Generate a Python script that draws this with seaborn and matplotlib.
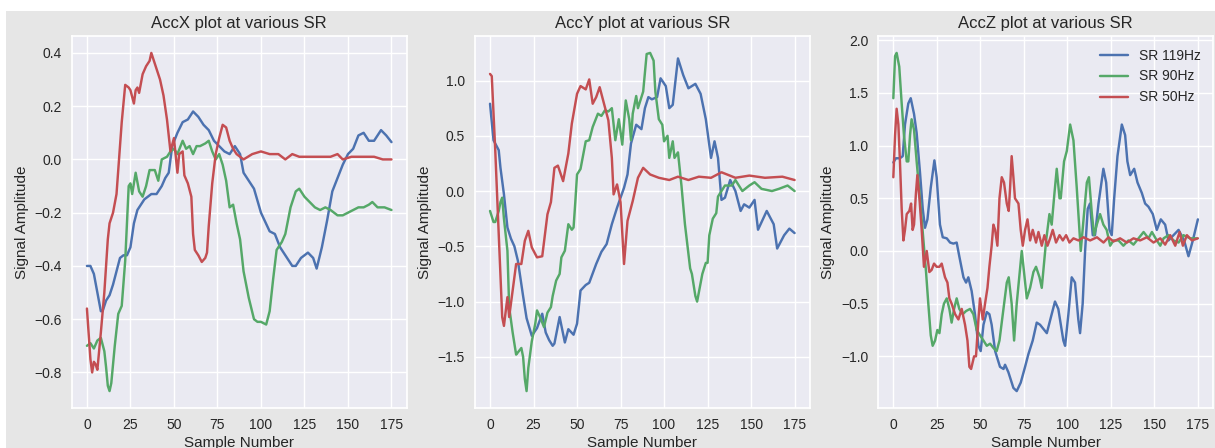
import matplotlib
matplotlib.use("Agg")
import matplotlib.pyplot as plt
from matplotlib.patches import Rectangle
import seaborn as sns
import pandas as pd

# ---------------- data (sample number, amplitude) ----------------
labels = ["SR 119Hz", "SR 90Hz", "SR 50Hz"]
colors = ["#4C72B0", "#55A868", "#C44E52"]
titles = ["AccX plot at various SR", "AccY plot at various SR", "AccZ plot at various SR"]

# AccX
accx_119_s = [0, 2, 4, 6, 8, 9, 11, 13, 15, 17, 19, 21, 23, 25, 27, 29, 31, 33, 35, 37, 40, 43, 45, 47,
              49, 52, 55, 58, 61, 64, 67, 70, 73, 76, 79, 82, 85, 88, 90, 93, 96, 100, 105, 108, 111, 114,
              118, 120, 123, 127, 130, 132, 135, 138, 141, 144, 147, 150, 153, 156, 159, 162, 165, 169,
              172, 175]
accx_119_v = [-0.40, -0.40, -0.43, -0.50, -0.57, -0.57, -0.53, -0.51, -0.47, -0.42, -0.37, -0.36, -0.36,
              -0.33, -0.24, -0.19, -0.17, -0.15, -0.14, -0.13, -0.13, -0.10, -0.07, -0.05, 0.05, 0.10,
              0.14, 0.15, 0.18, 0.16, 0.13, 0.11, 0.07, 0.05, 0.03, 0.02, 0.05, 0.02, -0.05, -0.08,
              -0.11, -0.20, -0.27, -0.28, -0.33, -0.36, -0.40, -0.40, -0.37, -0.35, -0.37, -0.41, -0.33,
              -0.23, -0.12, -0.07, -0.02, 0.02, 0.04, 0.09, 0.10, 0.07, 0.07, 0.11, 0.09, 0.065]
accx_90_s = [0, 2, 4, 6, 8, 10, 11, 12, 13, 14, 16, 18, 20, 22, 24, 25, 26, 28, 30, 32, 34, 36, 39, 41,
             43, 46, 48, 50, 52, 55, 57, 59, 61, 63, 65, 68, 70, 72, 74, 76, 78, 80, 82, 84, 86, 88, 90,
             93, 96, 98, 100, 103, 105, 107, 109, 112, 114, 117, 120, 122, 125, 128, 131, 134, 137, 140,
             144, 147, 150, 153, 156, 159, 162, 164, 167, 171, 175]
accx_90_v = [-0.70, -0.69, -0.71, -0.68, -0.67, -0.72, -0.78, -0.85, -0.87, -0.84, -0.70, -0.58, -0.55,
             -0.38, -0.10, -0.09, -0.13, -0.05, -0.12, -0.14, -0.10, -0.04, -0.04, -0.08, 0.00, 0.01,
             0.03, 0.04, 0.02, 0.07, 0.04, 0.05, 0.02, 0.05, 0.05, 0.06, 0.07, 0.03, 0.00, 0.02, -0.02,
             -0.08, -0.18, -0.17, -0.24, -0.30, -0.42, -0.52, -0.60, -0.61, -0.61, -0.62, -0.57, -0.45,
             -0.34, -0.31, -0.28, -0.18, -0.12, -0.11, -0.14, -0.16, -0.18, -0.19, -0.18, -0.19, -0.21,
             -0.21, -0.20, -0.19, -0.18, -0.18, -0.17, -0.16, -0.18, -0.18, -0.19]
accx_50_s = [0, 2, 3, 4, 5, 6, 8, 10, 12, 13, 15, 17, 19, 20, 22, 24, 25, 27, 28, 29, 30, 32, 34, 36,
             37, 39, 42, 44, 46, 48, 50, 52, 53, 55, 56, 58, 60, 61, 62, 64, 66, 68, 69, 70, 72, 74, 76,
             78, 80, 82, 84, 86, 90, 95, 100, 105, 110, 114, 118, 122, 130, 140, 144, 147, 152, 160,
             165, 170, 175]
accx_50_v = [-0.56, -0.75, -0.80, -0.76, -0.77, -0.79, -0.65, -0.50, -0.30, -0.24, -0.20, -0.13, 0.05,
             0.14, 0.28, 0.27, 0.26, 0.21, 0.26, 0.27, 0.25, 0.32, 0.35, 0.37, 0.40, 0.36, 0.30, 0.24,
             0.15, 0.03, 0.08, -0.05, 0.02, 0.03, -0.06, -0.09, -0.14, -0.28, -0.34, -0.36, -0.385,
             -0.37, -0.35, -0.25, -0.09, 0.02, 0.08, 0.13, 0.12, 0.07, 0.04, 0.02, 0.00, 0.02, 0.03,
             0.02, 0.02, 0.00, 0.02, 0.01, 0.01, 0.01, 0.02, 0.00, 0.01, 0.01, 0.01, 0.00, 0.00]

# AccY
accy_119_s = [0, 2, 5, 6, 8, 10, 12, 14, 16, 19, 21, 24, 27, 30, 32, 34, 36, 37, 40, 43, 45, 48, 50, 52,
              55, 57, 61, 64, 67, 70, 73, 77, 79, 81, 84, 87, 89, 91, 93, 96, 98, 101, 103, 105, 108,
              111, 114, 118, 121, 124, 127, 129, 131, 133, 135, 138, 141, 144, 146, 149, 152, 154, 159,
              163, 165, 169, 172, 175]
accy_119_v = [0.79, 0.46, 0.37, 0.21, -0.03, -0.33, -0.43, -0.50, -0.63, -0.95, -1.15, -1.31, -1.24,
              -1.11, -1.28, -1.35, -1.40, -1.38, -1.14, -1.37, -1.25, -1.30, -1.20, -0.90, -0.85, -0.83,
              -0.66, -0.55, -0.48, -0.30, -0.15, 0.03, 0.15, 0.43, 0.60, 0.56, 0.75, 0.85, 0.83, 0.85,
              1.02, 0.95, 0.75, 0.78, 1.20, 1.05, 0.93, 0.97, 0.88, 0.65, 0.30, 0.45, 0.30, -0.08, -0.06,
              0.10, 0.00, -0.18, -0.12, -0.15, -0.08, -0.35, -0.18, -0.30, -0.52, -0.40, -0.34, -0.38]
accy_90_s = [0, 2, 3, 5, 6, 7, 8, 10, 11, 13, 15, 16, 18, 19, 20, 21, 22, 24, 26, 27, 29, 31, 33, 35, 36,
             38, 40, 41, 43, 45, 47, 48, 49, 50, 52, 55, 57, 59, 62, 64, 66, 68, 70, 72, 74, 76, 78, 80,
             81, 82, 84, 85, 88, 90, 92, 94, 95, 97, 99, 100, 102, 103, 105, 106, 108, 110, 112, 115,
             116, 118, 119, 122, 124, 125, 126, 128, 130, 131, 135, 139, 141, 145, 149, 152, 156, 162,
             166, 171, 175]
accy_90_v = [-0.18, -0.28, -0.28, -0.18, -0.10, -0.06, -0.25, -0.54, -1.05, -1.28, -1.48, -1.46, -1.42,
             -1.50, -1.70, -1.81, -1.60, -1.36, -1.20, -1.08, -1.15, -1.23, -1.10, -1.05, -0.95, -0.81,
             -0.75, -0.60, -0.54, -0.30, -0.35, -0.33, -0.10, 0.15, 0.20, 0.45, 0.46, 0.58, 0.70, 0.68,
             0.73, 0.72, 0.75, 0.46, 0.65, 0.42, 0.82, 0.65, 0.46, 0.70, 0.86, 0.75, 0.90, 1.24, 1.25,
             1.18, 0.90, 0.65, 0.60, 0.45, 0.50, 0.30, 0.45, 0.30, 0.35, 0.05, -0.30, -0.70, -0.75,
             -0.95, -1.00, -0.75, -0.65, -0.65, -0.40, -0.25, -0.20, -0.05, 0.05, 0.05, 0.10, 0.00, 0.05,
             0.08, 0.02, 0.00, 0.02, 0.05, 0.00]
accy_50_s = [0, 1, 3, 5, 7, 8, 10, 11, 13, 15, 18, 20, 22, 24, 27, 30, 33, 35, 37, 39, 42, 45, 47, 50,
             52, 55, 57, 59, 61, 63, 65, 68, 70, 71, 73, 75, 77, 79, 82, 85, 88, 92, 97, 103, 108, 114,
             120, 127, 133, 141, 149, 158, 168, 175]
accy_50_v = [1.06, 1.04, 0.37, -0.39, -1.14, -1.22, -0.96, -1.14, -0.90, -0.66, -0.66, -0.45, -0.36, -0.51,
             -0.60, -0.59, -0.21, -0.10, 0.21, 0.23, 0.09, 0.34, 0.61, 0.88, 0.95, 0.92, 1.01, 0.79, 0.85,
             0.94, 0.82, 0.64, 0.30, -0.03, 0.06, -0.10, -0.66, -0.27, -0.09, 0.12, 0.21, 0.15, 0.12,
             0.10, 0.13, 0.10, 0.13, 0.12, 0.17, 0.12, 0.14, 0.12, 0.13, 0.10]

# AccZ
accz_119_s = [0, 1.5, 3.8, 5.4, 6.7, 8.6, 10, 11.9, 13.4, 15.3, 16.9, 18.2, 19.6, 21.5, 23.6, 24.9, 26.8,
              28.4, 30.7, 32.6, 34.5, 36.4, 37.9, 40.3, 41.8, 43.1, 45, 46.9, 48.9, 50.2, 51.8, 53.7,
              55.2, 56.5, 58.5, 61.3, 63.3, 64.2, 66.1, 69, 70.9, 73.2, 75.7, 77.6, 80.1, 82.4, 84.3,
              88.2, 91, 92.9, 94.8, 97.7, 98.7, 100.6, 102.5, 104.4, 106.3, 107.3, 108.8, 110.2, 111.7,
              113, 114.6, 115.9, 117.9, 120.7, 122.3, 124.2, 125.5, 126.9, 128.8, 131.3, 133.2, 134.5,
              136.1, 138.4, 140.3, 142.8, 144.7, 146.6, 149.1, 151.4, 153.7, 156.2, 158.1, 161, 163.9,
              167.1, 169.6, 172.1, 175]
accz_119_v = [0.84, 0.88, 0.88, 0.9, 1.2, 1.4, 1.45, 1.3, 1.12, 0.75, 0.4, 0.22, 0.3, 0.6, 0.86, 0.7, 0.25,
              0.13, 0.12, 0.08, 0.07, 0.08, -0.05, -0.25, -0.3, -0.25, -0.38, -0.6, -0.9, -0.95, -0.7,
              -0.58, -0.6, -0.7, -0.95, -1.1, -1.12, -1.08, -1.15, -1.3, -1.33, -1.25, -1.1, -0.98,
              -0.85, -0.68, -0.7, -0.78, -0.6, -0.48, -0.55, -0.85, -0.9, -0.6, -0.25, -0.3, -0.65,
              -0.78, -0.5, 0.0, 0.4, 0.45, 0.15, 0.15, 0.45, 0.78, 0.65, 0.2, 0.15, 0.5, 0.9, 1.2, 1.1,
              0.85, 0.72, 0.78, 0.65, 0.55, 0.45, 0.42, 0.35, 0.2, 0.3, 0.25, 0.1, 0.15, 0.2, 0.1, -0.05,
              0.1, 0.3]
accz_90_s = [0, 1, 1.9, 3.4, 4.8, 6.1, 7.7, 8.6, 9.6, 10.5, 11.9, 13.4, 15.3, 17.3, 18.8, 20.1, 21.5, 22.6,
             24, 25.3, 26.5, 27.8, 29.1, 30.7, 32.2, 33.5, 34.9, 36.4, 37.9, 39.9, 41.8, 44.1, 46, 47.9,
             49.8, 51.8, 53.7, 55.6, 57.5, 59.4, 61, 62.9, 65.2, 66.3, 68, 69.4, 70.9, 73.8, 75.1, 76.7,
             78.6, 80.5, 82, 84, 85.3, 87.8, 89.7, 91, 92.6, 93.9, 95.5, 96.2, 98.1, 99.7, 101.6, 103.5,
             105.4, 107.7, 109.3, 111.2, 112.4, 114.1, 115.4, 116.9, 118.8, 120.7, 122.6, 124.6, 126.5,
             129.4, 132.2, 135.1, 138, 140.9, 143.8, 146.6, 148.6, 151.4, 153.4, 155.3, 158.1, 161,
             163.9, 166.7, 170.6, 174.4]
accz_90_v = [1.45, 1.85, 1.88, 1.75, 1.4, 1.1, 0.85, 0.85, 1.1, 1.25, 1.15, 0.85, 0.5, 0.1, -0.2, -0.5,
             -0.8, -0.9, -0.85, -0.75, -0.78, -0.6, -0.5, -0.45, -0.55, -0.68, -0.55, -0.45, -0.55, -0.6,
             -0.57, -0.55, -0.6, -0.75, -0.8, -0.85, -0.9, -0.88, -0.92, -0.95, -0.85, -0.6, -0.3, -0.25,
             -0.5, -0.85, -0.5, 0.0, -0.2, -0.45, -0.35, -0.2, -0.15, -0.25, -0.35, 0.1, 0.35, 0.25, 0.55,
             0.78, 0.5, 0.5, 0.85, 0.95, 1.2, 1.05, 0.6, 0.0, 0.3, 0.65, 0.7, 0.35, 0.15, 0.25, 0.35,
             0.25, 0.2, 0.05, 0.1, 0.1, 0.05, 0.1, 0.06, 0.12, 0.18, 0.12, 0.18, 0.1, 0.05, 0.12, 0.15,
             0.1, 0.08, 0.15, 0.12, 0.12]
accz_50_s = [0, 1.0, 1.9, 2.9, 3.8, 4.8, 5.8, 6.7, 7.7, 9.2, 10.2, 11.1, 11.9, 13.0, 13.8, 15.0, 16.3,
             17.6, 19.2, 20.7, 22.0, 23.4, 24.9, 26.5, 27.8, 29.7, 31.1, 32.2, 33.5, 35.5, 37.4, 39.3,
             41.2, 42.6, 43.7, 44.7, 46.4, 47.5, 48.9, 49.8, 51.4, 52.7, 54.1, 55.2, 56.5, 57.5, 58.5,
             59.8, 61.0, 62.3, 63.6, 65.2, 66.3, 67.1, 68.0, 69.0, 69.9, 71.9, 73.2, 74.4, 75.7, 77.1,
             78.6, 80.1, 82.0, 83.4, 85.3, 86.8, 88.6, 90.1, 91.6, 93.5, 95.5, 97.4, 99.3, 101.2, 103.5,
             106.4, 109.3, 113.1, 117.0, 120.8, 123.6, 126.5, 130.3, 134.2, 138.0, 141.8, 145.7, 149.5,
             153.4, 156.2, 159.1, 162.0, 164.5, 166.4, 168.7, 171.6, 175.0]
accz_50_v = [0.7, 1.1, 1.35, 1.2, 0.85, 0.4, 0.1, 0.2, 0.35, 0.38, 0.45, 0.2, 0.25, 0.55, 0.72, 0.5, 0.2,
             -0.15, 0.0, -0.2, -0.18, -0.12, -0.15, -0.15, -0.12, -0.25, -0.3, -0.45, -0.5, -0.6, -0.65,
             -0.55, -0.7, -0.85, -1.1, -1.12, -1.0, -1.0, -0.65, -0.45, -0.65, -0.5, -0.35, -0.15, 0.05,
             0.25, 0.2, 0.05, 0.5, 0.7, 0.65, 0.45, 0.38, 0.6, 0.9, 0.7, 0.5, 0.45, 0.2, 0.05, 0.2, 0.3,
             0.1, 0.2, 0.08, 0.18, 0.05, 0.15, 0.05, 0.12, 0.2, 0.08, 0.15, 0.1, 0.15, 0.08, 0.12, 0.1,
             0.13, 0.1, 0.13, 0.08, 0.13, 0.09, 0.12, 0.08, 0.12, 0.1, 0.13, 0.08, 0.12, 0.06, 0.15, 0.05,
             0.18, 0.05, 0.15, 0.1, 0.12]

panels = [
    [(accx_119_s, accx_119_v), (accx_90_s, accx_90_v), (accx_50_s, accx_50_v)],
    [(accy_119_s, accy_119_v), (accy_90_s, accy_90_v), (accy_50_s, accy_50_v)],
    [(accz_119_s, accz_119_v), (accz_90_s, accz_90_v), (accz_50_s, accz_50_v)],
]

# ---------------- style ----------------
sns.set_theme(style="darkgrid", context="notebook", rc={
    "axes.facecolor": "#EAEAF2",
    "grid.color": "white",
    "grid.linewidth": 1.0,
    "axes.titlesize": 12,
    "axes.labelsize": 11,
    "xtick.labelsize": 10,
    "ytick.labelsize": 10,
    "legend.fontsize": 10,
    "lines.linewidth": 1.75,
    "xtick.major.size": 0,
    "ytick.major.size": 0,
    "xtick.major.pad": 7,
    "ytick.major.pad": 7,
    "text.color": ".15",
    "axes.labelcolor": ".15",
    "xtick.color": ".15",
    "ytick.color": ".15",
})
plt.rcParams["font.family"] = ["Liberation Sans", "DejaVu Sans"]

W, H = 1215, 448
fig = plt.figure(figsize=(W / 100, H / 100), dpi=100, facecolor="white")
fig.patches.append(Rectangle((6 / W, 0), 1, 1 - 11 / H, transform=fig.transFigure,
                             facecolor="#E6E6E6", edgecolor="none", zorder=-10))

lefts = [71.7, 474.8, 878.1]
for i, left in enumerate(lefts):
    ax = fig.add_axes([left / W, 40 / H, 335 / W, 372 / H])
    for (s, v), lab, col in zip(panels[i], labels, colors):
        df = pd.DataFrame({"Sample Number": s, "Signal Amplitude": v})
        sns.lineplot(data=df, x="Sample Number", y="Signal Amplitude", ax=ax,
                     color=col, label=lab, estimator=None, sort=False, linewidth=1.75)
    ax.set_title(titles[i])
    ax.set_xlabel("Sample Number", labelpad=3)
    ax.set_ylabel("Signal Amplitude")
    ax.set_xlim(-8.75, 183.75)
    ax.set_xticks([0, 25, 50, 75, 100, 125, 150, 175])
    if i < 2:
        ax.get_legend().remove()
    else:
        ax.legend(loc="upper right", frameon=False)

fig.savefig("out.png", dpi=100, facecolor=fig.get_facecolor())
